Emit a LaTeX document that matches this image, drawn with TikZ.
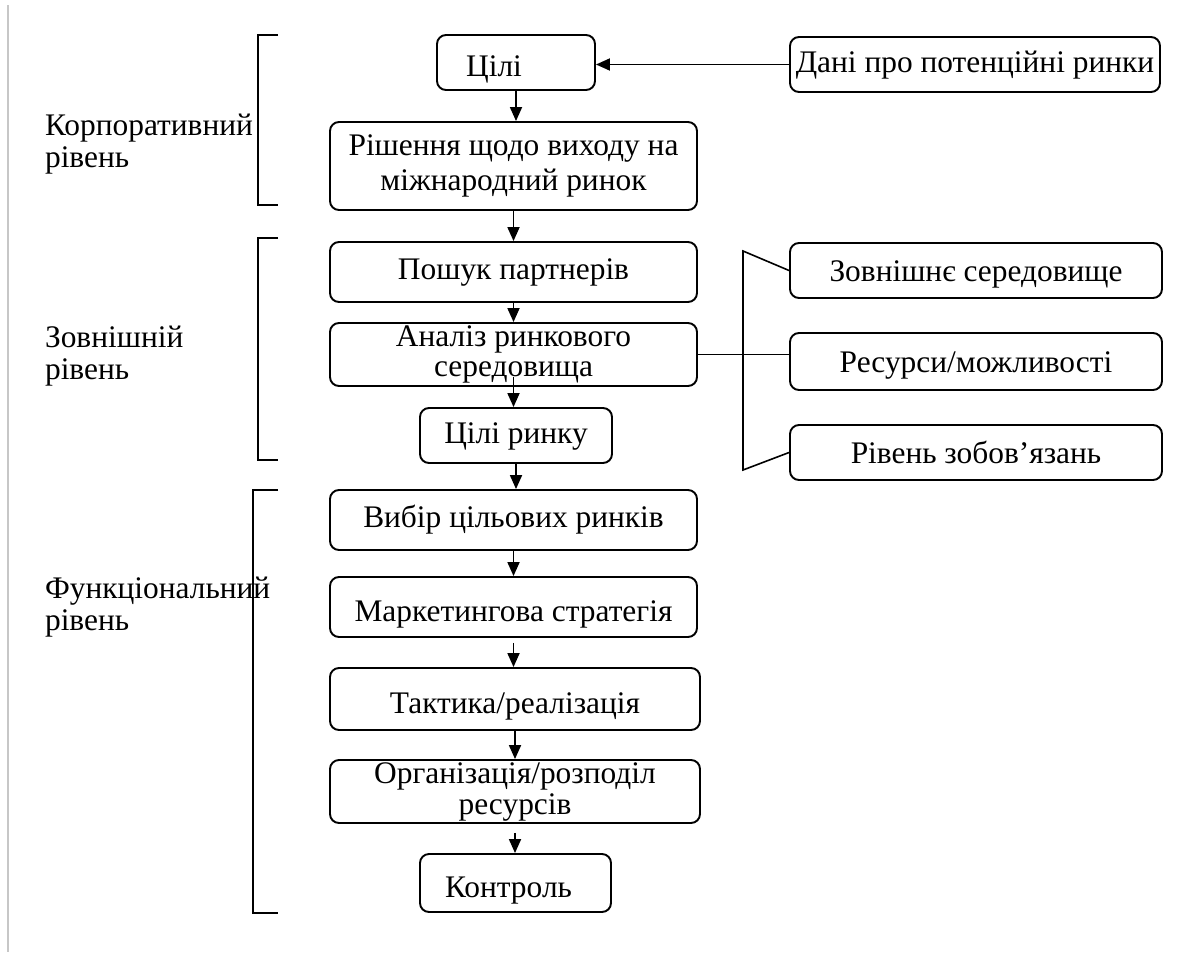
\documentclass[tikz,border=0pt]{standalone}
\usepackage{fontspec}
\setmainfont{Liberation Serif}
\usetikzlibrary{arrows.meta,calc}
\begin{document}
\begin{tikzpicture}[x=0.5pt,y=-0.5pt,
  every node/.style={font=\fontsize{15.7}{16}\selectfont},
  box/.style={draw, line width=0.95pt, rounded corners=4.5pt, inner sep=0pt, align=center},
  mid/.style={text height=11pt, text depth=3.5pt},
  low/.style={text height=15pt, text depth=1pt},
  lowish/.style={text height=13pt, text depth=2pt},
  arr/.style={line width=0.9pt, -{Triangle[length=7pt,width=6pt]}},
  brk/.style={line width=0.8pt},
  lbl/.style={anchor=west, align=left}]
\useasboundingbox (0,0) rectangle (1203,969);
\draw[black!22, line width=0.8pt] (8,5) -- (8,952);

% main column
\node[box,low,minimum width=79pt,minimum height=27.5pt] (c1) at (516,62.5) {\hbox{Цілі\hspace{22pt}}};
\node[box,mid,minimum width=185pt,minimum height=27.5pt] (d) at (975,64.5) {Дані про потенційні ринки};
\node[box,minimum width=183.5pt,minimum height=44pt,font=\fontsize{15.7}{17.5}\selectfont] (r) at (513.5,166) {Рішення щодо виходу на\\міжнародний ринок};
\node[box,mid,minimum width=183.5pt,minimum height=30pt] (p) at (513.5,272) {Пошук партнерів};
\node[box,minimum width=183.5pt,minimum height=31.5pt,font=\fontsize{15.7}{15}\selectfont] (a) at (513.5,354.5) {Аналіз ринкового\\середовища};
\node[box,mid,minimum width=96pt,minimum height=27.5pt] (cr) at (516,435.5) {Цілі ринку};
\node[box,mid,minimum width=183.5pt,minimum height=30pt] (v) at (513.5,520) {Вибір цільових ринків};
\node[box,low,minimum width=183.5pt,minimum height=30pt] (m) at (513.5,607) {Маркетингова стратегія};
\node[box,low,minimum width=185pt,minimum height=31pt] (t) at (515,699) {Тактика/реалізація};
\node[box,minimum width=185pt,minimum height=31.5pt,font=\fontsize{15.7}{15.5}\selectfont] (o) at (515,791.5) {Організація/розподіл\\ресурсів};
\node[box,low,minimum width=95.5pt,minimum height=29pt] (k) at (515.5,883) {\hbox{Контроль\hspace{7pt}}};

% right column
\node[box,lowish,minimum width=186pt,minimum height=27.5pt] (z1) at (976,270.5) {Зовнішнє середовище};
\node[box,lowish,minimum width=186pt,minimum height=28.5pt] (z2) at (976,361.5) {Ресурси/можливості};
\node[box,lowish,minimum width=186pt,minimum height=27.5pt] (z3) at (976,452.5) {Рівень зобов’язань};

% arrows
\draw[arr] (d.west) -- (d.west -| c1.east);
\draw[arr] (c1.south) -- (c1.south |- r.north);
\draw[arr] (r.south) -- (r.south |- p.north);
\draw[arr] (p.south) -- (p.south |- a.north);
\draw[arr] ([yshift=5pt]a.south) -- (a.south |- cr.north);
\draw[arr] (cr.south) -- (cr.south |- v.north);
\draw[arr] (v.south) -- (v.south |- m.north);
\draw[arr] ([yshift=-2.5pt]m.south) -- (m.south |- t.north);
\draw[arr] (t.south) -- (t.south |- o.north);
\draw[arr] ([yshift=-4.5pt]o.south) -- (o.south |- k.north);

% right bracket
\coordinate (bt) at (743,251);
\coordinate (bb) at (743,470);
\draw[brk] (z1.west) -- (bt) -- (bb) -- (z3.west);
\draw[brk] (a.east) -- (a.east -| z2.west);

% left brackets
\draw[brk] (278,35) -- (258,35) -- (258,205) -- (278,205);
\draw[brk] (278,238) -- (258,238) -- (258,460) -- (278,460);
\draw[brk] (278,490) -- (253,490) -- (253,913) -- (278,913);

% level labels
\node[lbl] (l1) at (38,144) {Корпоративний\\рівень};
\node[lbl] (l2) at (38,356) {Зовнішній\\рівень};
\node[lbl] (l3) at (38,607) {Функціональний\\рівень};
\end{tikzpicture}
\end{document}
